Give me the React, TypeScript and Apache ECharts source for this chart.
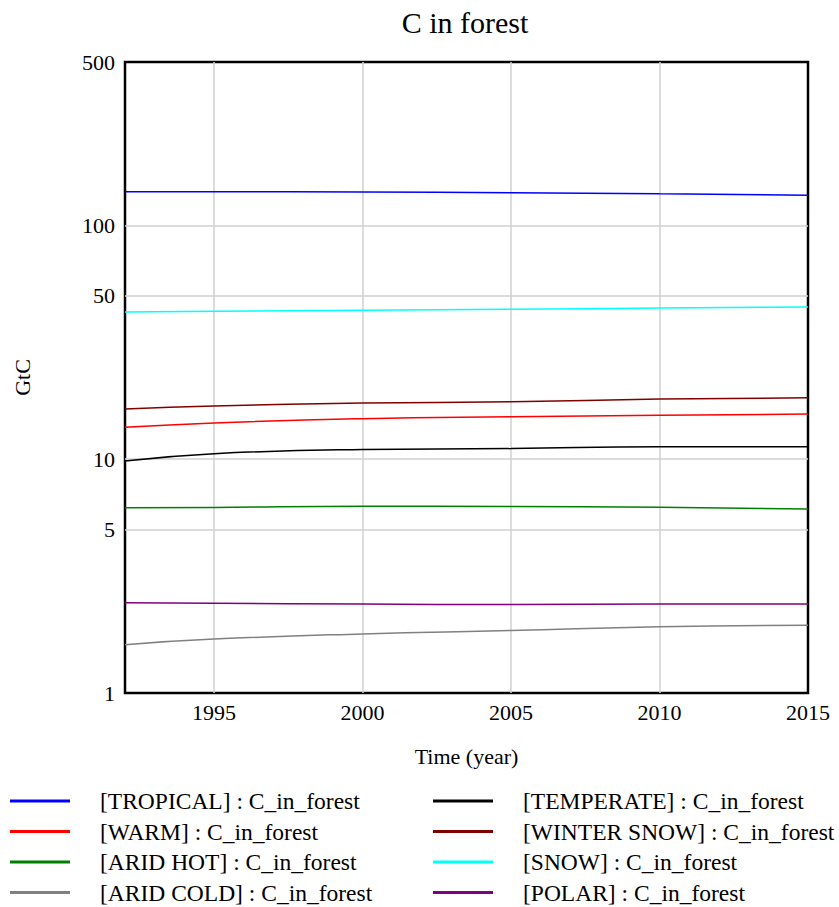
import React, { useEffect, useRef } from "react";
import * as echarts from "echarts";

const years = [1992, 1995, 2000, 2005, 2010, 2015];
const xTickLabels = [1995, 2000, 2005, 2010, 2015];
const xGridValues = [1995, 2000, 2005, 2010];
const yTickLabels = [1, 5, 10, 50, 100, 500];
const yGridValues = [5, 10, 50, 100];

const tropical = [139.4, 139.4, 139.0, 138.0, 136.6, 134.5];
const warm = [13.7, 14.3, 14.9, 15.2, 15.4, 15.6];
const aridHot = [6.2, 6.22, 6.29, 6.27, 6.23, 6.12];
const aridCold = [1.61, 1.7, 1.79, 1.85, 1.92, 1.95];
const temperate = [9.82, 10.56, 11.0, 11.1, 11.3, 11.3];
const winterSnow = [16.4, 16.9, 17.4, 17.6, 18.1, 18.3];
const snow = [42.6, 42.9, 43.4, 43.8, 44.3, 44.8];
const polar = [2.43, 2.42, 2.4, 2.39, 2.4, 2.4];

const seriesDefs = [
  { name: "[TROPICAL] : C_in_forest", data: tropical, color: "#0000ff" },
  { name: "[WARM] : C_in_forest", data: warm, color: "#ff0000" },
  { name: "[ARID HOT] : C_in_forest", data: aridHot, color: "#008000" },
  { name: "[ARID COLD] : C_in_forest", data: aridCold, color: "#808080" },
  { name: "[TEMPERATE] : C_in_forest", data: temperate, color: "#000000" },
  { name: "[WINTER SNOW] : C_in_forest", data: winterSnow, color: "#800000" },
  { name: "[SNOW] : C_in_forest", data: snow, color: "#00ffff" },
  { name: "[POLAR] : C_in_forest", data: polar, color: "#800080" },
];

const FONT = "'Liberation Serif', 'Times New Roman', serif";

export default function App() {
  const ref = useRef<HTMLDivElement>(null);
  useEffect(() => {
    if (!ref.current) return;
    const chart = echarts.init(ref.current, undefined, { renderer: "svg" });
    const legendCommon = {
      orient: "vertical",
      top: 789,
      height: 160,
      padding: 0,
      icon: "rect",
      itemWidth: 60,
      itemHeight: 3,
      itemGap: 6.5,
      textStyle: {
        fontFamily: FONT,
        fontSize: 23.5,
        color: "#000",
        padding: [0, 0, 0, 25],
      },
    };
    chart.setOption({
      animation: false,
      backgroundColor: "#fff",
      title: {
        text: "C in forest",
        left: 460,
        top: 2,
        textAlign: "center",
        textStyle: { fontFamily: FONT, fontSize: 30, fontWeight: "normal", color: "#000" },
      },
      grid: {
        left: 125,
        right: 31,
        top: 62,
        bottom: 214,
        show: true,
        borderColor: "#000",
        borderWidth: 2.5,
        backgroundColor: "transparent",
      },
      legend: [
        { ...legendCommon, left: 10, data: seriesDefs.slice(0, 4).map((s) => s.name) },
        { ...legendCommon, left: 433, data: seriesDefs.slice(4).map((s) => s.name) },
      ],
      xAxis: {
        type: "value",
        min: 1992,
        max: 2015,
        name: "Time (year)",
        nameLocation: "middle",
        nameGap: 52,
        nameTextStyle: { fontFamily: FONT, fontSize: 22, color: "#000" },
        axisLine: { show: false },
        axisTick: { show: false, customValues: xGridValues },
        axisLabel: {
          customValues: xTickLabels,
          formatter: (v: number) => String(v),
          fontFamily: FONT,
          fontSize: 22,
          color: "#000",
          margin: 8,
        },
        splitLine: { show: true, lineStyle: { color: "#d0d0d0", width: 1.5 } },
      },
      yAxis: {
        type: "log",
        logBase: 10,
        min: 1,
        max: 500,
        name: "GtC",
        nameLocation: "middle",
        nameGap: 92,
        nameTextStyle: { fontFamily: FONT, fontSize: 22, color: "#000" },
        axisLine: { show: false },
        axisTick: { show: false, customValues: yGridValues },
        axisLabel: {
          customValues: yTickLabels,
          formatter: (v: number) => String(Math.round(v)),
          fontFamily: FONT,
          fontSize: 22,
          color: "#000",
          margin: 10,
        },
        splitLine: { show: true, lineStyle: { color: "#d0d0d0", width: 1.5 } },
        minorSplitLine: { show: false },
      },
      series: seriesDefs.map((s) => ({
        name: s.name,
        type: "line",
        data: years.map((y, i) => [y, s.data[i]]),
        symbol: "none",
        smooth: 0.5,
        color: s.color,
        lineStyle: { color: s.color, width: 1.5 },
      })),
    });
    return () => chart.dispose();
  }, []);
  return (
    <div
      ref={ref}
      style={{ position: "absolute", left: 0, top: 0, width: 839, height: 907 }}
    />
  );
}
